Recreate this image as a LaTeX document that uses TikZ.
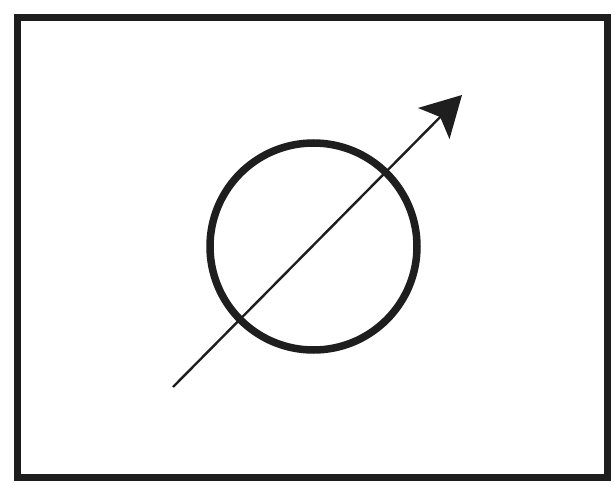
\documentclass[tikz,border=0pt]{standalone}
\usetikzlibrary{arrows.meta}
\definecolor{ink}{HTML}{1E1E1E}
\tikzset{
  frame/.style={draw=ink, line width=7pt},
  ring/.style={draw=ink, line width=7.5pt},
  vec/.style={draw=ink, line width=2.4pt, -{Stealth[length=40pt, width=44pt, inset=9pt]}}
}
\begin{document}
\begin{tikzpicture}[x=1pt, y=-1pt]
\useasboundingbox (0,0) rectangle (614,487);
\fill[white] (0,0) rectangle (614,487);
\draw[frame] (17.5,17.5) rectangle (607,477);
\coordinate (c) at (313.5,246.5);
\draw[ring] (c) circle[radius=103.5pt];
\coordinate (start) at (173,387);
\coordinate (end) at (462,95);
\draw[vec] (start) -- (end);
\end{tikzpicture}
\end{document}
